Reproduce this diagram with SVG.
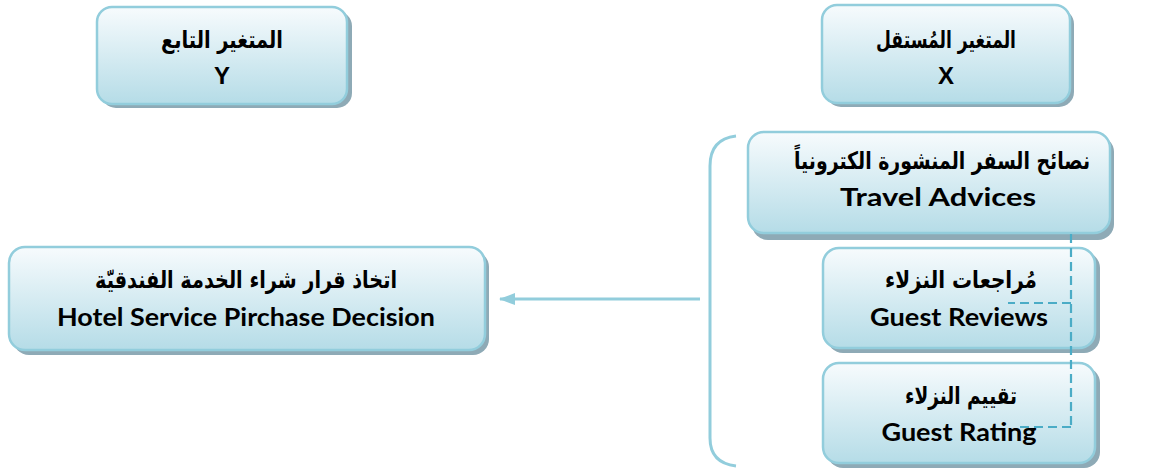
<svg xmlns="http://www.w3.org/2000/svg" width="1149" height="471" viewBox="0 0 1149 471">
<style>
.shadow{fill:#8eaab6;}
.box{fill:url(#g);stroke:#92cddc;stroke-width:2.5;}
.ar{font-family:"DejaVu Sans",sans-serif;font-weight:bold;font-size:24px;fill:#000;text-anchor:middle;}
.en{font-family:Lato,"Open Sans",sans-serif;font-weight:bold;font-size:24px;fill:#000;text-anchor:middle;}
.lt{font-family:"Liberation Sans",Arial,sans-serif;font-weight:bold;font-size:24px;fill:#000;text-anchor:middle;}
.con{fill:none;stroke:#92cddc;stroke-width:3;}
.dash{fill:none;stroke:#4bacc6;stroke-width:2.2;stroke-dasharray:9,5;}
</style>
<defs>
<linearGradient id="g" x1="0" y1="0" x2="0" y2="1">
<stop offset="0" stop-color="#f7fbfd"/>
<stop offset="1" stop-color="#b5dce7"/>
</linearGradient>
<marker id="ah" markerWidth="16" markerHeight="12" refX="15" refY="6" orient="auto" markerUnits="userSpaceOnUse">
<path d="M0,0 L16,6 L0,12 z" fill="#92cddc"/>
</marker>
</defs>
<rect width="1149" height="471" fill="#fff"/>

<g id="connectors">
<path class="con" d="M736,136 Q710,139 710,166 L710,438 Q710,463 736,466"/>
<line class="con" x1="700" y1="299" x2="500" y2="299" marker-end="url(#ah)"/>
</g>

<g id="node-y">
<rect class="shadow" x="101" y="11" width="251" height="97" rx="15"/>
<rect class="box" x="97" y="7" width="250" height="97" rx="15"/>
<text class="ar" x="222" y="48" textLength="122" lengthAdjust="spacingAndGlyphs">المتغير التابع</text>
<text class="lt" x="222" y="84">Y</text>
</g>

<g id="node-x">
<rect class="shadow" x="826" y="9" width="248" height="98" rx="15"/>
<rect class="box" x="822" y="5" width="248" height="98" rx="15"/>
<text class="ar" x="946" y="48" textLength="140" lengthAdjust="spacingAndGlyphs">المتغير المُستقل</text>
<text class="lt" x="946" y="84">X</text>
</g>

<g id="node-travel">
<rect class="shadow" x="752" y="136" width="362" height="104" rx="16"/>
<rect class="box" x="748" y="132" width="362" height="101" rx="16"/>
<text class="ar" x="942" y="169" font-size="21" textLength="296" lengthAdjust="spacingAndGlyphs">نصائح السفر المنشورة الكترونياً</text>
<text class="en" x="938" y="206" textLength="196" lengthAdjust="spacingAndGlyphs">Travel Advices</text>
</g>

<g id="node-reviews">
<rect class="shadow" x="827" y="252" width="273" height="101" rx="16"/>
<rect class="box" x="823" y="248" width="272" height="100" rx="16"/>
<text class="ar" x="961" y="288" textLength="152" lengthAdjust="spacingAndGlyphs">مُراجعات النزلاء</text>
<text class="en" x="959" y="326" textLength="178" lengthAdjust="spacingAndGlyphs">Guest Reviews</text>
</g>

<g id="node-rating">
<rect class="shadow" x="827" y="367" width="273" height="101" rx="16"/>
<rect class="box" x="823" y="363" width="272" height="100" rx="16"/>
<text class="ar" x="961" y="404" textLength="112" lengthAdjust="spacingAndGlyphs">تقييم النزلاء</text>
<text class="en" x="959" y="441" textLength="155" lengthAdjust="spacingAndGlyphs">Guest Rating</text>
</g>

<g id="node-hotel">
<rect class="shadow" x="13" y="251" width="476" height="104" rx="16"/>
<rect class="box" x="9" y="247" width="476" height="103" rx="16"/>
<text class="ar" x="246" y="288" textLength="302" lengthAdjust="spacingAndGlyphs">اتخاذ قرار شراء الخدمة الفندقيّة</text>
<text class="en" x="246" y="326" textLength="378" lengthAdjust="spacingAndGlyphs">Hotel Service Pirchase Decision</text>
</g>

<g id="dashed-links">
<path class="dash" d="M1071,234 L1071,427"/>
<path class="dash" d="M1071,303 L1008,303"/>
<path class="dash" d="M1071,427 L1018,427"/>
</g>
</svg>
